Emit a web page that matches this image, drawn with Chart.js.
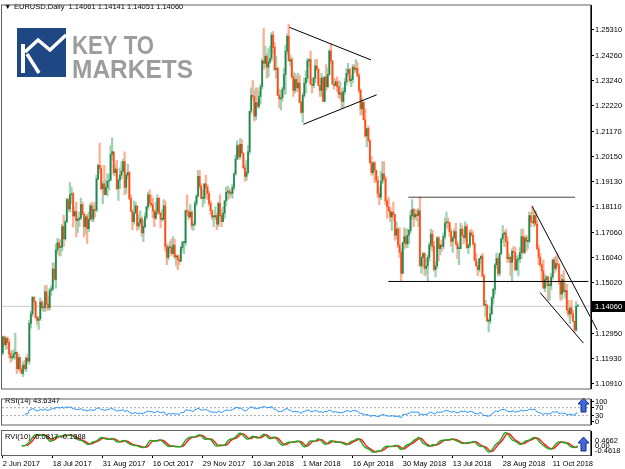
<!DOCTYPE html>
<html>
<head>
<meta charset="utf-8">
<script src="https://cdn.jsdelivr.net/npm/chart.js@4.4.1/dist/chart.umd.min.js"></script>
<style>
    html, body { margin: 0; padding: 0; background: #fff; }
    #wrap { position: relative; width: 625px; height: 469px; overflow: hidden; }
    canvas { position: absolute; left: 0; }
    #main { top: 0; }
    #rsi { top: 394px; }
    #rvi { top: 430px; }
</style>
</head>
<body>
<div id="wrap">
    <canvas id="main" width="625" height="394"></canvas>
    <canvas id="rsi" width="625" height="36"></canvas>
    <canvas id="rvi" width="625" height="39"></canvas>
</div>
<script>
// EURUSD daily bars, 2 Jun 2017 .. 2 Nov 2018 (one line per week)
const firstOpen = 1.1216;
const closes = [
    1.1281,
    1.1250, 1.1275, 1.1259, 1.1212, 1.1196,
    1.1198, 1.1212, 1.1218, 1.1152, 1.1197,
    1.1150, 1.1133, 1.1166, 1.1152, 1.1195,
    1.1182, 1.1336, 1.1375, 1.1442, 1.1425,
    1.1362, 1.1348, 1.1354, 1.1423, 1.1400,
    1.1400, 1.1465, 1.1415, 1.1400, 1.1470,
    1.1476, 1.1557, 1.1515, 1.1635, 1.1664,
    1.1645, 1.1647, 1.1730, 1.1680, 1.1750,
    1.1840, 1.1802, 1.1860, 1.1865, 1.1774,
    1.1792, 1.1755, 1.1760, 1.1765, 1.1820,
    1.1780, 1.1730, 1.1770, 1.1722, 1.1760,
    1.1815, 1.1762, 1.1800, 1.1797, 1.1925,
    1.1980, 1.1967, 1.1885, 1.1905, 1.1860,
    1.1890, 1.1915, 1.1920, 1.2025, 1.2035,
    1.1950, 1.1965, 1.1885, 1.1920, 1.1940,
    1.1955, 1.1995, 1.1890, 1.1940, 1.1950,
    1.1845, 1.1793, 1.1750, 1.1785, 1.1815,
    1.1733, 1.1745, 1.1762, 1.1705, 1.1730,
    1.1770, 1.1810, 1.1860, 1.1825, 1.1820,
    1.1795, 1.1765, 1.1790, 1.1845, 1.1785,
    1.1760, 1.1760, 1.1815, 1.1650, 1.1605,
    1.1645, 1.1645, 1.1620, 1.1655, 1.1607,
    1.1610, 1.1595, 1.1590, 1.1645, 1.1665,
    1.1665, 1.1795, 1.1790, 1.1770, 1.1790,
    1.1735, 1.1740, 1.1825, 1.1855, 1.1935,
    1.1895, 1.1845, 1.1845, 1.1905, 1.1890,
    1.1865, 1.1825, 1.1795, 1.1770, 1.1770,
    1.1775, 1.1740, 1.1825, 1.1775, 1.1750,
    1.1785, 1.1835, 1.1870, 1.1875, 1.1865,
    1.1865, 1.1890, 1.1945, 1.2005,
    1.2060, 1.2015, 1.2065, 1.2030,
    1.1970, 1.1935, 1.1950, 1.2035, 1.2200,
    1.2265, 1.2260, 1.2180, 1.2235, 1.2220,
    1.2260, 1.2300, 1.2405, 1.2395, 1.2425,
    1.2380, 1.2400, 1.2415, 1.2510, 1.2460,
    1.2370, 1.2375, 1.2265, 1.2250, 1.2255,
    1.2290, 1.2350, 1.2445, 1.2505, 1.2405,
    1.2410, 1.2340, 1.2285, 1.2330, 1.2295,
    1.2315, 1.2235, 1.2195, 1.2265, 1.2315,
    1.2335, 1.2405, 1.2410, 1.2310, 1.2305,
    1.2335, 1.2385, 1.2370, 1.2305, 1.2285,
    1.2335, 1.2240, 1.2340, 1.2300, 1.2350,
    1.2445, 1.2405, 1.2310, 1.2305, 1.2320,
    1.2300, 1.2270, 1.2275, 1.2240, 1.2280,
    1.2320, 1.2355, 1.2370, 1.2325, 1.2330,
    1.2380, 1.2370, 1.2375, 1.2345, 1.2285,
    1.2210, 1.2235, 1.2165, 1.2100, 1.2130,
    1.2080, 1.1990, 1.1950, 1.1990, 1.1960,
    1.1920, 1.1865, 1.1850, 1.1915, 1.1945,
    1.1925, 1.1835, 1.1810, 1.1795, 1.1770,
    1.1790, 1.1780, 1.1695, 1.1720, 1.1655,
    1.1625, 1.1540, 1.1665, 1.1690, 1.1660,
    1.1695, 1.1715, 1.1775, 1.1800, 1.1770,
    1.1780, 1.1775, 1.1795, 1.1570, 1.1605,
    1.1620, 1.1560, 1.1570, 1.1605, 1.1655,
    1.1700, 1.1650, 1.1555, 1.1570, 1.1685,
    1.1640, 1.1655, 1.1650, 1.1690, 1.1745,
    1.1750, 1.1745, 1.1710, 1.1670, 1.1685,
    1.1710, 1.1660, 1.1640, 1.1640, 1.1720,
    1.1695, 1.1685, 1.1730, 1.1645, 1.1655,
    1.1705, 1.1695, 1.1660, 1.1595, 1.1570,
    1.1555, 1.1600, 1.1610, 1.1530, 1.1410,
    1.1410, 1.1345, 1.1345, 1.1375, 1.1440,
    1.1475, 1.1575, 1.1600, 1.1540, 1.1620,
    1.1680, 1.1700, 1.1705, 1.1670, 1.1600,
    1.1605, 1.1585, 1.1630, 1.1625, 1.1555,
    1.1595, 1.1600, 1.1625, 1.1690, 1.1625,
    1.1685, 1.1670, 1.1670, 1.1775, 1.1750,
    1.1745, 1.1775, 1.1740, 1.1640, 1.1605,
    1.1575, 1.1550, 1.1480, 1.1515, 1.1525,
    1.1490, 1.1490, 1.1525, 1.1595, 1.1560,
    1.1580, 1.1575, 1.1505, 1.1455, 1.1515,
    1.1465, 1.1470, 1.1390, 1.1375, 1.1400,
    1.1375, 1.1345, 1.1310, 1.1406, 1.1406
];
const highs = [
    1.1285,
    1.1285, 1.1283, 1.1282, 1.1270, 1.1225,
    1.1225, 1.1230, 1.1296, 1.1220, 1.1210,
    1.1200, 1.1160, 1.1180, 1.1187, 1.1200,
    1.1212, 1.1350, 1.1387, 1.1445, 1.1445,
    1.1425, 1.1365, 1.1365, 1.1440, 1.1430,
    1.1420, 1.1490, 1.1490, 1.1447, 1.1480,
    1.1490, 1.1583, 1.1583, 1.1660, 1.1683,
    1.1680, 1.1677, 1.1740, 1.1777, 1.1757,
    1.1846, 1.1845, 1.1910, 1.1890, 1.1870,
    1.1810, 1.1830, 1.1770, 1.1790, 1.1846,
    1.1830, 1.1790, 1.1780, 1.1780, 1.1790,
    1.1823, 1.1830, 1.1820, 1.1830, 1.1940,
    1.1985, 1.2070, 1.1980, 1.1915, 1.1980,
    1.1920, 1.1945, 1.1945, 1.2060, 1.2092,
    1.2035, 1.1985, 1.2000, 1.1925, 1.1970,
    1.1995, 1.2005, 1.2035, 1.1950, 1.1985,
    1.1955, 1.1860, 1.1800, 1.1835, 1.1830,
    1.1815, 1.1780, 1.1795, 1.1770, 1.1755,
    1.1785, 1.1815, 1.1870, 1.1880, 1.1860,
    1.1845, 1.1800, 1.1830, 1.1860, 1.1850,
    1.1790, 1.1800, 1.1840, 1.1835, 1.1660,
    1.1655, 1.1670, 1.1680, 1.1690, 1.1680,
    1.1615, 1.1615, 1.1615, 1.1650, 1.1670,
    1.1670, 1.1800, 1.1860, 1.1800, 1.1820,
    1.1795, 1.1750, 1.1835, 1.1860, 1.1960,
    1.1960, 1.1905, 1.1880, 1.1905, 1.1940,
    1.1900, 1.1875, 1.1835, 1.1800, 1.1775,
    1.1810, 1.1785, 1.1830, 1.1860, 1.1800,
    1.1810, 1.1835, 1.1890, 1.1895, 1.1885,
    1.1880, 1.1905, 1.1950, 1.2022,
    1.2080, 1.2065, 1.2090, 1.2085,
    1.2030, 1.1985, 1.2000, 1.2060, 1.2200,
    1.2295, 1.2325, 1.2285, 1.2295, 1.2295,
    1.2280, 1.2310, 1.2415, 1.2537, 1.2465,
    1.2435, 1.2455, 1.2465, 1.2520, 1.2525,
    1.2480, 1.2425, 1.2380, 1.2290, 1.2285,
    1.2300, 1.2375, 1.2470, 1.2515, 1.2555,
    1.2430, 1.2420, 1.2360, 1.2355, 1.2345,
    1.2355, 1.2345, 1.2245, 1.2275, 1.2335,
    1.2365, 1.2415, 1.2415, 1.2446, 1.2335,
    1.2340, 1.2410, 1.2413, 1.2375, 1.2335,
    1.2355, 1.2340, 1.2340, 1.2390, 1.2375,
    1.2450, 1.2476, 1.2405, 1.2335, 1.2330,
    1.2340, 1.2325, 1.2320, 1.2290, 1.2295,
    1.2335, 1.2375, 1.2395, 1.2375, 1.2345,
    1.2390, 1.2390, 1.2410, 1.2400, 1.2355,
    1.2290, 1.2255, 1.2240, 1.2210, 1.2130,
    1.2140, 1.2085, 1.2015, 1.1995, 1.1995,
    1.1960, 1.1935, 1.1890, 1.1955, 1.1995,
    1.1995, 1.1935, 1.1840, 1.1850, 1.1810,
    1.1790, 1.1830, 1.1780, 1.1750, 1.1725,
    1.1725, 1.1640, 1.1665, 1.1725, 1.1720,
    1.1720, 1.1720, 1.1795, 1.1840, 1.1805,
    1.1800, 1.1800, 1.1805, 1.1852, 1.1610,
    1.1625, 1.1625, 1.1600, 1.1615, 1.1665,
    1.1720, 1.1715, 1.1670, 1.1590, 1.1690,
    1.1690, 1.1660, 1.1675, 1.1705, 1.1765,
    1.1790, 1.1765, 1.1750, 1.1720, 1.1690,
    1.1720, 1.1745, 1.1670, 1.1650, 1.1745,
    1.1735, 1.1720, 1.1750, 1.1740, 1.1660,
    1.1715, 1.1720, 1.1710, 1.1665, 1.1620,
    1.1585, 1.1600, 1.1610, 1.1620, 1.1535,
    1.1430, 1.1415, 1.1355, 1.1405, 1.1445,
    1.1480, 1.1580, 1.1623, 1.1610, 1.1620,
    1.1685, 1.1735, 1.1710, 1.1720, 1.1690,
    1.1620, 1.1610, 1.1640, 1.1650, 1.1645,
    1.1610, 1.1615, 1.1645, 1.1720, 1.1720,
    1.1690, 1.1695, 1.1690, 1.1790, 1.1790,
    1.1815, 1.1795, 1.1795, 1.1755, 1.1655,
    1.1620, 1.1580, 1.1595, 1.1535, 1.1530,
    1.1530, 1.1500, 1.1540, 1.1595, 1.1605,
    1.1610, 1.1620, 1.1580, 1.1535, 1.1535,
    1.1550, 1.1500, 1.1495, 1.1430, 1.1410,
    1.1430, 1.1390, 1.1345, 1.1425, 1.1414
];
const lows = [
    1.1208,
    1.1243, 1.1230, 1.1233, 1.1196, 1.1177,
    1.1185, 1.1195, 1.1190, 1.1131, 1.1145,
    1.1140, 1.1130, 1.1119, 1.1146, 1.1140,
    1.1175, 1.1170, 1.1317, 1.1365, 1.1391,
    1.1355, 1.1330, 1.1312, 1.1348, 1.1390,
    1.1385, 1.1385, 1.1390, 1.1390, 1.1390,
    1.1450, 1.1470, 1.1510, 1.1480, 1.1620,
    1.1613, 1.1610, 1.1630, 1.1650, 1.1675,
    1.1745, 1.1792, 1.1790, 1.1825, 1.1728,
    1.1770, 1.1688, 1.1706, 1.1730, 1.1760,
    1.1780, 1.1688, 1.1700, 1.1662, 1.1710,
    1.1760, 1.1750, 1.1750, 1.1770, 1.1790,
    1.1920, 1.1950, 1.1880, 1.1823, 1.1860,
    1.1860, 1.1855, 1.1880, 1.1915, 1.2000,
    1.1940, 1.1937, 1.1880, 1.1837, 1.1885,
    1.1925, 1.1955, 1.1860, 1.1865, 1.1925,
    1.1840, 1.1790, 1.1718, 1.1740, 1.1790,
    1.1715, 1.1720, 1.1730, 1.1690, 1.1669,
    1.1725, 1.1760, 1.1800, 1.1815, 1.1810,
    1.1765, 1.1730, 1.1760, 1.1780, 1.1780,
    1.1725, 1.1750, 1.1760, 1.1630, 1.1575,
    1.1595, 1.1625, 1.1610, 1.1620, 1.1600,
    1.1570, 1.1555, 1.1575, 1.1590, 1.1630,
    1.1620, 1.1655, 1.1775, 1.1760, 1.1765,
    1.1720, 1.1715, 1.1735, 1.1815, 1.1850,
    1.1885, 1.1845, 1.1810, 1.1825, 1.1850,
    1.1840, 1.1815, 1.1780, 1.1760, 1.1730,
    1.1760, 1.1718, 1.1730, 1.1770, 1.1730,
    1.1750, 1.1765, 1.1815, 1.1840, 1.1845,
    1.1855, 1.1845, 1.1880, 1.1940,
    1.2005, 1.2005, 1.2005, 1.2025,
    1.1965, 1.1915, 1.1918, 1.1945, 1.2025,
    1.2190, 1.2245, 1.2160, 1.2165, 1.2215,
    1.2212, 1.2230, 1.2290, 1.2370, 1.2380,
    1.2335, 1.2340, 1.2395, 1.2405, 1.2435,
    1.2365, 1.2335, 1.2265, 1.2215, 1.2205,
    1.2240, 1.2270, 1.2270, 1.2430, 1.2405,
    1.2385, 1.2335, 1.2260, 1.2275, 1.2280,
    1.2280, 1.2235, 1.2190, 1.2155, 1.2255,
    1.2275, 1.2320, 1.2380, 1.2310, 1.2275,
    1.2295, 1.2315, 1.2365, 1.2305, 1.2260,
    1.2260, 1.2240, 1.2240, 1.2285, 1.2295,
    1.2345, 1.2395, 1.2310, 1.2290, 1.2305,
    1.2280, 1.2255, 1.2250, 1.2215, 1.2215,
    1.2270, 1.2305, 1.2345, 1.2315, 1.2300,
    1.2315, 1.2355, 1.2360, 1.2340, 1.2275,
    1.2185, 1.2185, 1.2165, 1.2095, 1.2055,
    1.2075, 1.1990, 1.1940, 1.1940, 1.1910,
    1.1910, 1.1850, 1.1820, 1.1840, 1.1905,
    1.1915, 1.1820, 1.1765, 1.1790, 1.1750,
    1.1715, 1.1755, 1.1675, 1.1680, 1.1645,
    1.1605, 1.1510, 1.1540, 1.1640, 1.1645,
    1.1645, 1.1660, 1.1705, 1.1760, 1.1730,
    1.1760, 1.1755, 1.1730, 1.1570, 1.1540,
    1.1565, 1.1530, 1.1535, 1.1508, 1.1590,
    1.1640, 1.1630, 1.1550, 1.1525, 1.1560,
    1.1590, 1.1615, 1.1630, 1.1640, 1.1680,
    1.1725, 1.1720, 1.1690, 1.1650, 1.1625,
    1.1680, 1.1655, 1.1600, 1.1575, 1.1640,
    1.1690, 1.1660, 1.1670, 1.1640, 1.1620,
    1.1645, 1.1690, 1.1655, 1.1590, 1.1570,
    1.1530, 1.1545, 1.1580, 1.1525, 1.1405,
    1.1365, 1.1345, 1.1301, 1.1335, 1.1375,
    1.1415, 1.1455, 1.1560, 1.1530, 1.1530,
    1.1615, 1.1665, 1.1650, 1.1650, 1.1585,
    1.1585, 1.1530, 1.1510, 1.1595, 1.1550,
    1.1550, 1.1530, 1.1585, 1.1600, 1.1620,
    1.1620, 1.1630, 1.1640, 1.1665, 1.1730,
    1.1745, 1.1730, 1.1735, 1.1635, 1.1575,
    1.1565, 1.1505, 1.1480, 1.1465, 1.1485,
    1.1430, 1.1430, 1.1475, 1.1515, 1.1540,
    1.1550, 1.1565, 1.1495, 1.1430, 1.1435,
    1.1460, 1.1440, 1.1390, 1.1365, 1.1335,
    1.1360, 1.1340, 1.1300, 1.1305, 1.1405
];
// FX daily bars open at the previous close
const opens = [firstOpen].concat(closes.slice(0, -1));

const lastPrice = 1.14060;
const priceTicks = [1.25310, 1.24260, 1.23240, 1.22220, 1.21170, 1.20150, 1.19130,
    1.18110, 1.17060, 1.16040, 1.15020, 1.12950, 1.11930, 1.10910];
const dateBars = [0, 32, 64, 96, 128, 160, 192, 224, 256, 288, 320, 352];
const dateLabels = ['2 Jun 2017', '18 Jul 2017', '31 Aug 2017', '16 Oct 2017', '29 Nov 2017',
    '16 Jan 2018', '1 Mar 2018', '16 Apr 2018', '30 May 2018', '13 Jul 2018', '28 Aug 2018', '11 Oct 2018'];

// hand drawn objects on the chart (bar index, price)
const wedgeTop = [{x: 183.4, y: 1.2542}, {x: 235.7, y: 1.2409}];
const wedgeBottom = [{x: 192.4, y: 1.2147}, {x: 239.3, y: 1.2267}];
const rangeTop = [{x: 259.6, y: 1.1850}, {x: 366.3, y: 1.1850}];
const rangeBottom = [{x: 246.8, y: 1.1507}, {x: 374.8, y: 1.1507}];
const channelTop = [{x: 338.9, y: 1.1812}, {x: 380.4, y: 1.1310}];
const channelBottom = [{x: 343.9, y: 1.1462}, {x: 371.6, y: 1.1256}];

const rsiLevels = [70, 30];
const rsiTicks = [100, 70, 30, 0];
const rviAxisLabels = ['0.4662', '0.00', '-0.4618'];
const titleText = 'EURUSD,Daily  1.14061 1.14141 1.14051 1.14060';
const rsiText = 'RSI(14) 43.6347';
const rviText = 'RVI(10) -0.0817 -0.1388';

const xMin = -0.5, xMax = 376.5;
const fontFamily = '"Liberation Sans", Arial, sans-serif';
Chart.defaults.font.family = fontFamily;
Chart.defaults.font.size = 7.5;
Chart.defaults.color = '#000';
Chart.defaults.animation = false;

// indicators as the terminal computes them from the bars above
function calcRsi(n) {
    const out = closes.map(() => null);
    let up = 0, dn = 0;
    for (let i = 1; i <= n; i++) {
        const d = closes[i] - closes[i - 1];
        if (d > 0) up += d; else dn -= d;
    }
    up /= n; dn /= n;
    out[n] = 100 - 100 / (1 + up / dn);
    for (let i = n + 1; i < closes.length; i++) {
        const d = closes[i] - closes[i - 1];
        up = (up * (n - 1) + Math.max(d, 0)) / n;
        dn = (dn * (n - 1) + Math.max(-d, 0)) / n;
        out[i] = dn === 0 ? 100 : 100 - 100 / (1 + up / dn);
    }
    return out;
}

function calcRvi(n) {
    const main = closes.map(() => null), signal = closes.map(() => null);
    const co = j => closes[j] - opens[j], hl = j => highs[j] - lows[j];
    for (let i = n + 2; i < closes.length; i++) {
        let num = 0, den = 0;
        for (let j = i - n + 1; j <= i; j++) {
            num += (co(j) + 2 * co(j - 1) + 2 * co(j - 2) + co(j - 3)) / 6;
            den += (hl(j) + 2 * hl(j - 1) + 2 * hl(j - 2) + hl(j - 3)) / 6;
        }
        main[i] = num / den;
    }
    for (let i = 0; i < closes.length; i++) {
        if (i >= 3 && main[i - 3] !== null) {
            signal[i] = (main[i] + 2 * main[i - 1] + 2 * main[i - 2] + main[i - 3]) / 6;
        }
    }
    return {main, signal};
}

const rsiValues = calcRsi(14);
const rvi = calcRvi(10);
const bull = i => closes[i] >= opens[i];
const idx = closes.map((c, i) => i);

function lineSet(points, color, extra) {
    return Object.assign({
        type: 'line', data: points, borderColor: color, borderWidth: 1,
        pointRadius: 0, fill: false, order: 0
    }, extra || {});
}

// frame round each sub window
const framePlugin = {
    id: 'frame',
    afterDraw(chart) {
        const a = chart.chartArea, ctx = chart.ctx;
        ctx.save();
        ctx.strokeStyle = '#606060';
        ctx.lineWidth = 1;
        ctx.strokeRect(a.left - 0.5, a.top - 0.5, a.right - a.left, a.bottom - a.top + 1);
        ctx.restore();
    }
};

function drawArrow(ctx, x, top) {
    ctx.save();
    ctx.beginPath();
    ctx.moveTo(x + 5.5, top);
    ctx.lineTo(x + 11, top + 6);
    ctx.lineTo(x + 8, top + 6);
    ctx.lineTo(x + 8, top + 14);
    ctx.lineTo(x + 3, top + 14);
    ctx.lineTo(x + 3, top + 6);
    ctx.lineTo(x, top + 6);
    ctx.closePath();
    ctx.fillStyle = '#4169e1';
    ctx.fill();
    ctx.strokeStyle = '#1c2a78';
    ctx.stroke();
    ctx.restore();
}

const mainDecor = {
    id: 'mainDecor',
    beforeDatasetsDraw(chart) {
        const ctx = chart.ctx;
        ctx.save();
        // logo
        ctx.fillStyle = '#1f4784';
        ctx.fillRect(17, 28, 49, 49);
        ctx.fillStyle = '#fff';
        ctx.fillRect(21, 44, 4, 29);
        ctx.strokeStyle = '#fff';
        ctx.lineWidth = 3.5;
        ctx.beginPath();
        ctx.moveTo(25, 52); ctx.lineTo(38, 40); ctx.lineTo(50, 50); ctx.lineTo(66, 35);
        ctx.stroke();
        ctx.beginPath();
        ctx.moveTo(27, 54); ctx.lineTo(39, 73);
        ctx.stroke();
        ctx.fillStyle = '#9d9d9d';
        ctx.font = 'bold 25px ' + fontFamily;
        ctx.textBaseline = 'alphabetic';
        ctx.fillText('KEY TO', 72, 54, 82);
        ctx.fillText('MARKETS', 72, 78, 121);
        // title
        ctx.fillStyle = '#000';
        ctx.font = '7.5px ' + fontFamily;
        ctx.textBaseline = 'middle';
        ctx.fillText('\u25BC', 4, 7);
        ctx.fillText(titleText, 14, 7);
        ctx.restore();
    },
    afterDraw(chart) {
        const ctx = chart.ctx, y = chart.scales.y.getPixelForValue(lastPrice);
        ctx.save();
        ctx.fillStyle = '#000';
        ctx.fillRect(592, Math.round(y) - 5, 33, 11);
        ctx.fillStyle = '#fff';
        ctx.font = '7.5px ' + fontFamily;
        ctx.textBaseline = 'middle';
        ctx.fillText(lastPrice.toFixed(5), 595, y + 0.5);
        ctx.restore();
    }
};

new Chart(document.getElementById('main'), {
    type: 'bar',
    data: {
        datasets: [
            lineSet(wedgeTop, '#000'),
            lineSet(wedgeBottom, '#000'),
            lineSet(rangeTop, '#444'),
            lineSet(rangeBottom, '#000'),
            lineSet(channelTop, '#000', {clip: {left: 0, top: 0, right: 12, bottom: 0}}),
            lineSet(channelBottom, '#000'),
            lineSet([{x: xMin, y: lastPrice}, {x: xMax, y: lastPrice}], '#c8c8c8', {order: 5}),
            {
                type: 'bar',
                data: idx.map(i => ({x: i, y: [lows[i], highs[i]]})),
                backgroundColor: ctx => bull(ctx.dataIndex) ? '#9fd2b3' : '#ffae94',
                barThickness: 1.6, grouped: false, order: 3
            },
            {
                type: 'bar',
                data: idx.map(i => ({x: i, y: [opens[i], closes[i]]})),
                backgroundColor: ctx => bull(ctx.dataIndex) ? '#1f874c' : '#ff4a12',
                barThickness: 1, minBarLength: 1, grouped: false, order: 2
            }
        ]
    },
    options: {
        responsive: false,
        devicePixelRatio: 1,
        layout: {padding: {left: 2, top: 2, bottom: 1, right: 0}},
        plugins: {legend: {display: false}, tooltip: {enabled: false}},
        scales: {
            x: {type: 'linear', min: xMin, max: xMax, offset: false, display: false},
            y: {
                position: 'right', min: 1.10711, max: 1.26307,
                afterBuildTicks: s => { s.ticks = priceTicks.map(v => ({value: v})); },
                afterFit: s => { s.width = 34; },
                ticks: {autoSkip: false, padding: 1, callback: v => v.toFixed(5)},
                grid: {drawOnChartArea: false, tickLength: 3, color: '#000'},
                border: {display: true, color: '#000'}
            }
        }
    },
    plugins: [mainDecor, framePlugin]
});

const rsiDecor = {
    id: 'rsiDecor',
    afterDraw(chart) {
        const ctx = chart.ctx;
        ctx.save();
        ctx.fillStyle = '#000';
        ctx.font = '7.5px ' + fontFamily;
        ctx.textBaseline = 'middle';
        ctx.fillText(rsiText, 5, 7);
        ctx.restore();
        drawArrow(ctx, 578, 4);
    }
};

new Chart(document.getElementById('rsi'), {
    type: 'line',
    data: {
        datasets: [
            lineSet(idx.map(i => ({x: i, y: rsiValues[i]})), '#1e90ff', {order: 1}),
            ...rsiLevels.map(v => lineSet([{x: xMin, y: v}, {x: xMax, y: v}], '#a8a8a8', {borderDash: [2, 2], order: 2}))
        ]
    },
    options: {
        responsive: false,
        devicePixelRatio: 1,
        layout: {padding: {left: 2, top: 1, bottom: 1, right: 0}},
        plugins: {legend: {display: false}, tooltip: {enabled: false}},
        scales: {
            x: {type: 'linear', min: xMin, max: xMax, offset: false, display: false},
            y: {
                position: 'right', min: -14.8, max: 111.1,
                afterBuildTicks: s => { s.ticks = rsiTicks.map(v => ({value: v})); },
                afterFit: s => { s.width = 34; },
                ticks: {autoSkip: false, padding: 1},
                grid: {drawOnChartArea: false, tickLength: 3, color: '#000'},
                border: {display: true, color: '#000'}
            }
        }
    },
    plugins: [rsiDecor, framePlugin]
});

const rviDecor = {
    id: 'rviDecor',
    afterDraw(chart) {
        const ctx = chart.ctx, a = chart.chartArea;
        ctx.save();
        ctx.fillStyle = '#000';
        ctx.font = '7.5px ' + fontFamily;
        ctx.textBaseline = 'middle';
        ctx.fillText(rviText, 5, 7);
        rviAxisLabels.forEach((t, k) => ctx.fillText(t, a.right + 4, 11 + k * 5));
        ctx.restore();
        drawArrow(ctx, 578, 7);
    }
};

new Chart(document.getElementById('rvi'), {
    type: 'line',
    data: {
        datasets: [
            lineSet(idx.map(i => ({x: i, y: rvi.signal[i]})), '#ff1a1a', {borderWidth: 1.4, order: 2}),
            lineSet(idx.map(i => ({x: i, y: rvi.main[i]})), '#22a822', {borderWidth: 1.4, order: 1})
        ]
    },
    options: {
        responsive: false,
        devicePixelRatio: 1,
        layout: {padding: {left: 2, top: 1, bottom: 0, right: 0}},
        plugins: {legend: {display: false}, tooltip: {enabled: false}},
        scales: {
            x: {
                type: 'linear', min: xMin, max: xMax, offset: false,
                afterBuildTicks: s => { s.ticks = dateBars.map(v => ({value: v})); },
                afterFit: s => { s.height = 14; },
                ticks: {autoSkip: false, maxRotation: 0, align: 'start', padding: 1,
                    callback: v => dateLabels[dateBars.indexOf(v)]},
                grid: {drawOnChartArea: false, tickLength: 3, color: '#000'},
                border: {display: true, color: '#000'}
            },
            y: {
                position: 'right', min: -0.601, max: 0.5126,
                afterFit: s => { s.width = 34; },
                ticks: {display: false},
                grid: {display: false},
                border: {display: true, color: '#000'}
            }
        }
    },
    plugins: [rviDecor, framePlugin]
});
</script>
</body>
</html>
